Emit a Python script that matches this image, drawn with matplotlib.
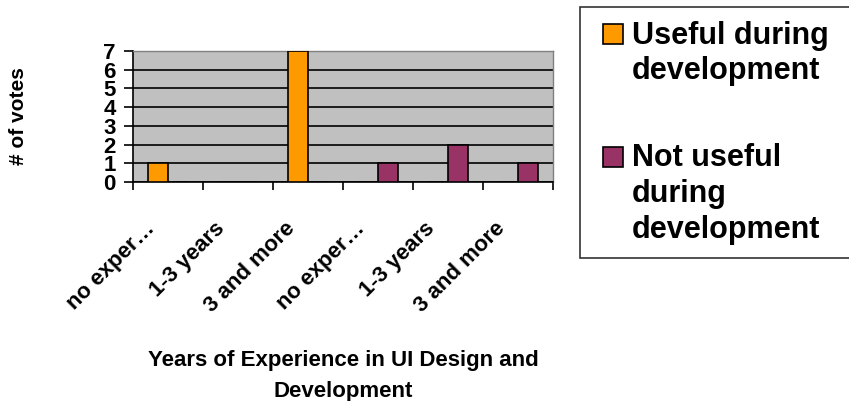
import numpy as np
import matplotlib
matplotlib.use('Agg')
import matplotlib.pyplot as plt
from matplotlib.patches import Rectangle
from matplotlib.legend_handler import HandlerPatch
from matplotlib.transforms import ScaledTranslation

# donnees
categories = ['no exper…', '1-3 years', '3 and more',
              'no exper…', '1-3 years', '3 and more']
useful = [1, 0, 7, 0, 0, 0]
not_useful = [0, 0, 0, 1, 2, 1]
series_names = ['Useful during\ndevelopment', 'Not useful\nduring\ndevelopment']

plt.rcParams['font.family'] = ['Liberation Sans', 'DejaVu Sans']
plt.rcParams['font.weight'] = 'bold'
plt.rcParams['axes.labelweight'] = 'bold'

LEG_FS = 22
LEG_LS = 1.25


class HandlerKey(HandlerPatch):
    """carre de legende aligne sur la premiere ligne du texte"""
    def __init__(self, nlines):
        super().__init__()
        self.nlines = nlines

    def create_artists(self, legend, orig_handle, xdescent, ydescent,
                       width, height, fontsize, trans):
        size = 14.4
        asc = 0.9 * fontsize
        desc = 0.21 * fontsize
        h = (self.nlines - 1) * asc * LEG_LS + asc + desc
        top = 0.5 * asc + h / 2
        cap_mid = top - asc + 0.358 * fontsize
        p = Rectangle((-xdescent + width - size, cap_mid - size / 2), size, size)
        self.update_prop(p, orig_handle, legend)
        p.set_transform(trans)
        return [p]


fig = plt.figure(figsize=(8.49, 4.01), dpi=100)
ax = fig.add_axes([133 / 849, 1 - 182 / 401, 420 / 849, 131 / 401])
ax.set_facecolor('#C0C0C0')

x = np.arange(len(categories))
w = 0.286
b1 = ax.bar(x - w / 2, useful, w, color='#FF9900', edgecolor='black',
            linewidth=1.2, zorder=3)
b2 = ax.bar(x + w / 2, not_useful, w, color='#993366', edgecolor='black',
            linewidth=1.2, zorder=3)

ax.set_xlim(-0.5, len(categories) - 0.5)
ax.set_ylim(0, 7)
ax.set_yticks(range(0, 8))
ax.tick_params(axis='y', direction='out', length=6.5, width=1.2,
               labelsize=16, pad=6)
ax.yaxis.grid(True, color='black', linewidth=1.2)
ax.set_axisbelow(True)

ax.set_xticks(x)
ax.set_xticklabels(categories, rotation=45, ha='right', va='center',
                   rotation_mode='anchor', fontsize=16)
ax.tick_params(axis='x', which='major', length=0, pad=31)
ax.set_xticks(np.arange(-0.5, len(categories)), minor=True)
ax.tick_params(axis='x', which='minor', direction='out', length=5.8,
               width=1.2)
decal = ScaledTranslation(-16 / 100, 0, fig.dpi_scale_trans)
for lab in ax.get_xticklabels():
    lab.set_transform(lab.get_transform() + decal)

for cote in ['left', 'bottom']:
    ax.spines[cote].set_color('black')
    ax.spines[cote].set_linewidth(1.2)
for cote in ['top', 'right']:
    ax.spines[cote].set_color('#808080')
    ax.spines[cote].set_linewidth(1.0)

ax.set_ylabel('# of votes', fontsize=15, va='center')
ax.yaxis.set_label_coords(-0.2726, 0.5)
ax.set_xlabel('Years of Experience in UI Design and\nDevelopment',
              fontsize=16, linespacing=1.63, va='top')
ax.xaxis.set_label_coords(0.5, -1.28)

h1, h2 = b1.patches[0], b2.patches[0]
leg = fig.legend([h1, h2], series_names, loc='upper left',
                 bbox_to_anchor=(580 / 849, 1 - 7 / 401, 290 / 849, 0),
                 mode='expand', borderaxespad=0, fancybox=False,
                 prop={'size': LEG_FS, 'weight': 'bold'},
                 handlelength=0.95, handleheight=0.65, handletextpad=0.3,
                 borderpad=0.45, labelspacing=1.85,
                 handler_map={h1: HandlerKey(2), h2: HandlerKey(3)})
leg.get_frame().set_edgecolor('black')
leg.get_frame().set_linewidth(1.2)
for t in leg.get_texts():
    t.set_linespacing(LEG_LS)

fig.savefig('out.png', dpi=100)
